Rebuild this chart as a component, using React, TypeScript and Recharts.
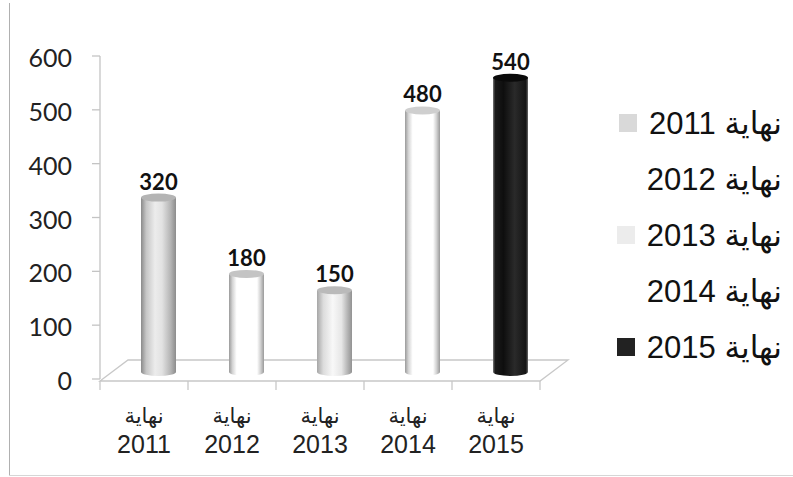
import React from 'react';
import { ComposedChart, Bar, Line, XAxis, YAxis, Cell, LabelList, Customized } from 'recharts';

const years = ['2011', '2012', '2013', '2014', '2015'];
const prefix = 'نهاية';
const values = [320, 180, 150, 480, 540];
const yTicks = [0, 100, 200, 300, 400, 500, 600];
const legendSwatches = ['#d9d9d9', '#ffffff', '#ececec', '#ffffff', '#222222'];

const whiteStops: [number, string][] = [
  [0, '#9a9a9a'], [0.1, '#d4d4d4'], [0.22, '#ffffff'], [0.8, '#ffffff'], [0.9, '#d2d2d2'], [1, '#9a9a9a'],
];
const cylStops: [number, string][][] = [
  [[0, '#8a8a8a'], [0.15, '#c6c6c6'], [0.4, '#ececec'], [0.6, '#e2e2e2'], [0.85, '#b4b4b4'], [1, '#8c8c8c']],
  whiteStops,
  [[0, '#a6a6a6'], [0.18, '#dcdcdc'], [0.45, '#f8f8f8'], [0.7, '#e6e6e6'], [0.9, '#adadad'], [1, '#929292']],
  whiteStops,
  [[0, '#7a7a7a'], [0.06, '#1a1a1a'], [0.3, '#0e0e0e'], [0.62, '#2a2a2a'], [0.94, '#141414'], [1, '#6a6a6a']],
];
const topColors = ['#b4b4b4', '#c4c4c4', '#bababa', '#cfcfcf', '#0a0a0a'];

const data = years.map((y, i) => ({ name: `${prefix} ${y}`, year: y, value: values[i] }));

const W = 793;
const H = 477;
const M = { top: 56, right: 253, bottom: 28, left: 0 };
const YW = 100;
const PLOT_L = M.left + YW;
const PLOT_W = W - M.right - PLOT_L;
const PLOT_B = 379;
const DEPTH_X = 28;
const DEPTH_Y = 21;
const DX = 14;
const RY = 4;

const Floor = () => (
  <g>
    <path
      d={`M${PLOT_L},${PLOT_B + 2} L${PLOT_L + DEPTH_X},${PLOT_B + 2 - DEPTH_Y} L${PLOT_L + PLOT_W + DEPTH_X},${PLOT_B + 2 - DEPTH_Y} L${PLOT_L + PLOT_W},${PLOT_B + 2} Z`}
      fill="#ffffff"
      stroke="#c8c8c8"
      strokeWidth={1.3}
    />
  </g>
);

const Cylinder = (props: any) => {
  const { x, y, width, height, index } = props;
  const stops = cylStops[index];
  const left = x + DX;
  const rx = width / 2;
  const id = `cylgrad${index}`;
  return (
    <g>
      <defs>
        <linearGradient id={id} x1="0" y1="0" x2="1" y2="0">
          {stops.map(([o, c], k) => (
            <stop key={k} offset={o} stopColor={c} />
          ))}
        </linearGradient>
      </defs>
      <path
        d={`M${left},${y} L${left},${y + height} A${rx},${RY} 0 0 0 ${left + width},${y + height} L${left + width},${y} Z`}
        fill={`url(#${id})`}
      />
      <ellipse cx={left + rx} cy={y} rx={rx} ry={RY} fill={topColors[index]} />
    </g>
  );
};

const ValueLabel = (props: any) => {
  const { x, y, width, value } = props;
  return (
    <text
      x={x + DX + width / 2}
      y={y - RY - 4}
      textAnchor="middle"
      fontFamily="Lato, 'Open Sans', sans-serif"
      fontWeight={700}
      fontSize={22}
      fill="#111"
    >
      {value}
    </text>
  );
};

const CatTick = (props: any) => {
  const { x, index, payload } = props;
  const half = PLOT_W / years.length / 2;
  const yr = years[index] ?? payload.value;
  return (
    <g>
      <line x1={x - half} y1={PLOT_B + 2} x2={x - half} y2={PLOT_B + 11} stroke="#c8c8c8" strokeWidth={1.3} />
      {index === years.length - 1 && (
        <line x1={x + half} y1={PLOT_B + 2} x2={x + half} y2={PLOT_B + 11} stroke="#c8c8c8" strokeWidth={1.3} />
      )}
      <text x={x} y={PLOT_B + 44} textAnchor="middle" fontFamily="'DejaVu Sans', sans-serif" fontSize={21} fill="#222">
        {prefix}
      </text>
      <text x={x} y={PLOT_B + 74} textAnchor="middle" fontFamily="'Liberation Sans', Arial, sans-serif" fontSize={25} fill="#222">
        {yr}
      </text>
    </g>
  );
};

const YTick = (props: any) => {
  const { x, y, payload } = props;
  return (
    <text x={x} y={y + 11} textAnchor="end" fontFamily="Lato, 'Open Sans', sans-serif" fontSize={25} fill="#222">
      {payload.value}
    </text>
  );
};

export default function App() {
  return (
    <div style={{ position: 'absolute', left: 0, top: 0, width: W, height: H, background: '#fff', overflow: 'hidden' }}>
      <div style={{ position: 'absolute', left: 9, top: 3, width: 1, height: 473, background: '#b0b0b0' }} />
      <div style={{ position: 'absolute', left: 9, top: 475, width: W - 9, height: 1, background: '#d6d6d6' }} />
      <div style={{ position: 'absolute', left: 0, top: 0 }}>
        <ComposedChart width={W} height={H} data={data} margin={M}>
          <Customized component={Floor} />
          <XAxis
            dataKey="year"
            xAxisId="cat"
            axisLine={false}
            tickLine={false}
            tickSize={0}
            tickMargin={0}
            height={70}
            interval={0}
            tick={<CatTick />}
          />
          <YAxis
            yAxisId="front"
            orientation="left"
            width={YW}
            domain={[0, 600]}
            ticks={yTicks}
            type="number"
            axisLine={{ stroke: '#c4c4c4', strokeWidth: 1.3 }}
            tickLine={{ stroke: '#c4c4c4', strokeWidth: 1.3 }}
            tickSize={8}
            tickMargin={20}
            tick={<YTick />}
          />
          <YAxis yAxisId="back" orientation="right" width={0} hide type="number" domain={[-13, 580]} allowDataOverflow />
          <Line
            dataKey="value"
            xAxisId="cat"
            yAxisId="front"
            stroke="none"
            strokeOpacity={0}
            dot={false}
            activeDot={false}
            legendType="none"
            isAnimationActive={false}
          />
          <Bar
            dataKey="value"
            xAxisId="cat"
            yAxisId="back"
            barSize={35}
            isAnimationActive={false}
            shape={<Cylinder />}
          >
            {data.map((d, i) => (
              <Cell key={d.year} fill={legendSwatches[i]} />
            ))}
            <LabelList dataKey="value" content={<ValueLabel />} />
          </Bar>
        </ComposedChart>
      </div>
      <div style={{ position: 'absolute', left: 600, top: 95, width: 190 }}>
        {years.map((y, i) => (
          <div
            key={y}
            style={{
              height: 56,
              display: 'flex',
              alignItems: 'center',
              justifyContent: 'flex-end',
              paddingRight: 8,
            }}
          >
            <span style={{ width: 18, height: 18, background: legendSwatches[i], marginRight: 12, display: 'inline-block' }} />
            <span style={{ fontFamily: "'Liberation Sans', 'DejaVu Sans', sans-serif", fontSize: 31, color: '#111', whiteSpace: 'nowrap' }}>
              {`${prefix} ${y}`}
            </span>
          </div>
        ))}
      </div>
    </div>
  );
}
